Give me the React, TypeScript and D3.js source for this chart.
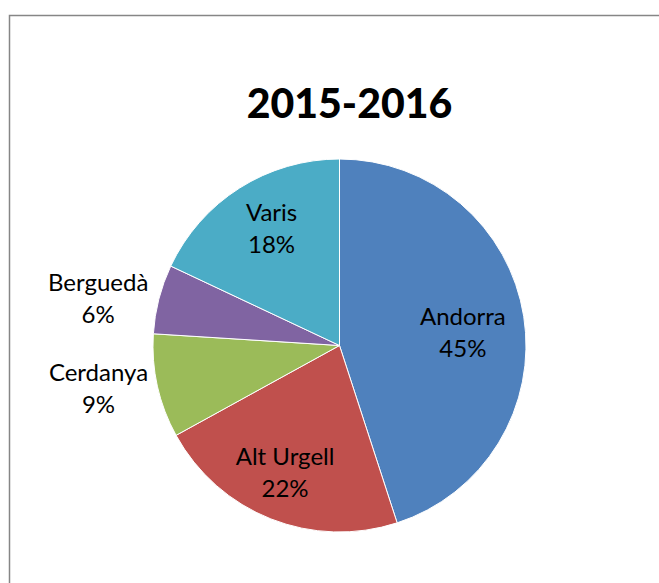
import React from "react";
import * as d3 from "d3";

const categories = ["Andorra", "Alt Urgell", "Cerdanya", "Berguedà", "Varis"];
const values = [45, 22, 9, 6, 18];
const colors = ["#4F81BD", "#C0504D", "#9BBB59", "#8064A2", "#4BACC6"];
const title = "2015-2016";

const W = 659;
const H = 583;

// label placement (layout only): radius as fraction of pie radius, angle nudge in degrees
const labelRadius = [0.665, 0.744, 1.313, 1.318, 0.722];
const labelAngleShift = [3.2, 1.5, 2.4, -3.5, 2.1];

export default function App() {
  const cx = 339.5;
  const cy = 345.5;
  const r = 186.5;
  const total = d3.sum(values);
  const pie = d3.pie<number>().sort(null).value((d) => d)(values);
  const arc = d3.arc<d3.PieArcDatum<number>>().innerRadius(0).outerRadius(r);
  const fmt = d3.format(".0%");
  const font = "Lato, 'Open Sans', sans-serif";

  return (
    <svg
      width={W}
      height={H}
      style={{ position: "absolute", left: 0, top: 0, background: "#fff" }}
    >
      <path d={`M9.5,${H} L9.5,15.5 L${W},15.5`} fill="none" stroke="#868686" strokeWidth={1.5} />
      <text
        x={349.5}
        y={117.5}
        textAnchor="middle"
        fontFamily={font}
        fontWeight="900"
        fontSize={41}
        fill="#000"
      >
        {title}
      </text>
      <g transform={`translate(${cx},${cy})`}>
        {pie.map((p, i) => (
          <path key={categories[i]} d={arc(p) || ""} fill={colors[i]} stroke="#fff" strokeWidth={1} />
        ))}
        {pie.map((p, i) => {
          const a = (p.startAngle + p.endAngle) / 2 + (labelAngleShift[i] * Math.PI) / 180;
          const lr = r * labelRadius[i];
          const x = lr * Math.sin(a);
          const y = -lr * Math.cos(a);
          return (
            <text
              key={"l" + i}
              x={x}
              y={y}
              textAnchor="middle"
              fontFamily={font}
              fontSize={24}
              fill="#000"
            >
              <tspan x={x} dy={-8}>{categories[i]}</tspan>
              <tspan x={x} dy={32}>{fmt(values[i] / total)}</tspan>
            </text>
          );
        })}
      </g>
    </svg>
  );
}
